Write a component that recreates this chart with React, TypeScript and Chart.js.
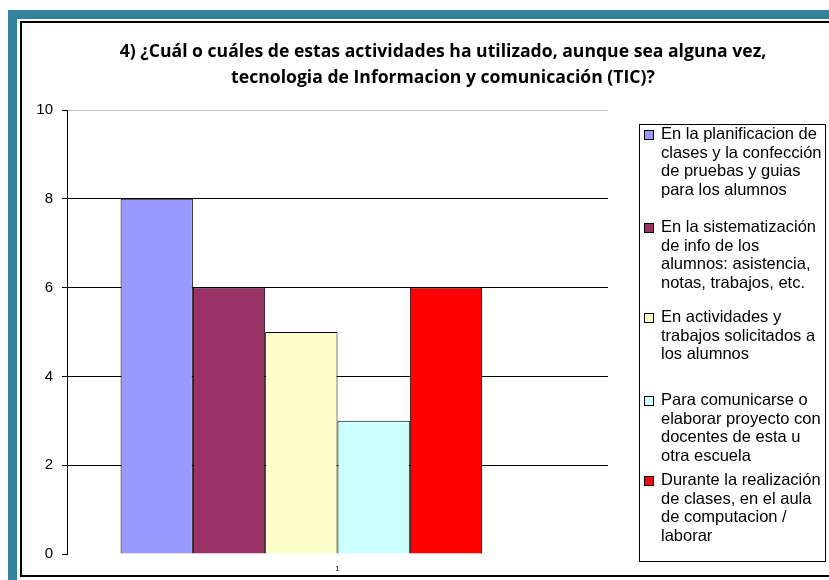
import React, { useEffect, useRef } from "react";
import { Chart, registerables } from "chart.js";

Chart.register(...registerables);

const categories = ["1"];
const titleLines = [
  "4) ¿Cuál o cuáles de estas actividades ha utilizado, aunque sea alguna vez,",
  "tecnologia de Informacion y comunicación (TIC)?",
];
const seriesLabels: string[][] = [
  ["En la planificacion de", "clases y la confección", "de pruebas y guias", "para los alumnos"],
  ["En la sistematización", "de info de los", "alumnos: asistencia,", "notas, trabajos, etc."],
  ["En actividades y", "trabajos solicitados a", "los alumnos"],
  ["Para comunicarse o", "elaborar proyecto con", "docentes de esta u", "otra escuela"],
  ["Durante la realización", "de clases, en el aula", "de computacion /", "laborar"],
  [],
];
const seriesValues: (number | null)[] = [8, 6, 5, 3, 6, null];
const seriesColors = ["#9999FF", "#993366", "#FFFFCC", "#CCFFFF", "#FF0000", "rgba(0,0,0,0)"];
const yTicks = [0, 2, 4, 6, 8, 10];

const framePlugin = {
  id: "frame",
  beforeDraw(chart: any) {
    const ctx = chart.ctx;
    ctx.save();
    ctx.fillStyle = "#FFFFFF";
    ctx.fillRect(0, 0, chart.width, chart.height);
    ctx.fillStyle = "#31849B";
    ctx.fillRect(8, 10, chart.width - 8, chart.height - 10);
    ctx.fillStyle = "#FFFFFF";
    ctx.fillRect(17, 19, chart.width - 17, chart.height - 19);
    ctx.strokeStyle = "#000";
    ctx.lineWidth = 2;
    ctx.beginPath();
    ctx.moveTo(chart.width, 22);
    ctx.lineTo(21, 22);
    ctx.lineTo(21, 576);
    ctx.lineTo(chart.width, 576);
    ctx.stroke();
    // title
    ctx.fillStyle = "#000";
    ctx.font = "bold 17.6px 'Open Sans'";
    ctx.textAlign = "center";
    ctx.textBaseline = "middle";
    ctx.fillText(titleLines[0], 443, 52);
    ctx.fillText(titleLines[1], 443, 78);
    ctx.restore();
  },
};

const legendPlugin = {
  id: "customLegend",
  afterDraw(chart: any) {
    const ctx = chart.ctx;
    const bx = 639.5, by = 124.5, bw = 186, bh = 437;
    const offsets = [10, 103, 193, 276, 356];
    const lh = 18.7;
    ctx.save();
    ctx.fillStyle = "#FFFFFF";
    ctx.fillRect(bx, by, bw, bh);
    ctx.strokeStyle = "#000";
    ctx.lineWidth = 1;
    ctx.strokeRect(bx, by, bw, bh);
    ctx.font = "16.5px 'Liberation Sans', Arial";
    ctx.textBaseline = "middle";
    ctx.textAlign = "left";
    chart.data.datasets.forEach((ds: any, i: number) => {
      const lines = seriesLabels[i];
      if (!lines || !lines.length) return;
      const y0 = by + offsets[i];
      ctx.fillStyle = ds.backgroundColor;
      ctx.fillRect(644.5, Math.round(y0) - 4.5, 9, 9);
      ctx.strokeStyle = "#000";
      ctx.strokeRect(644.5, Math.round(y0) - 4.5, 9, 9);
      ctx.fillStyle = "#000";
      lines.forEach((ln, j) => ctx.fillText(ln, 661, y0 + j * lh));
    });
    ctx.restore();
  },
};

export default function App() {
  const ref = useRef<HTMLCanvasElement | null>(null);
  useEffect(() => {
    if (!ref.current) return;
    const chart = new Chart(ref.current, {
      type: "bar",
      data: {
        labels: categories,
        datasets: seriesValues.map((v, i) => ({
          label: seriesLabels[i].join(" "),
          data: [v],
          backgroundColor: seriesColors[i],
          borderColor: "#000",
          borderWidth: 1,
          barPercentage: 1,
          categoryPercentage: 0.802,
        })),
      },
      options: {
        responsive: false,
        animation: false,
        devicePixelRatio: 1,
        layout: { padding: { left: 20, top: 110, right: 221, bottom: 0 } },
        plugins: {
          legend: { display: false },
          title: { display: false },
          tooltip: { enabled: false },
        },
        scales: {
          x: {
            grid: { display: false, drawTicks: false },
            border: { display: false },
            ticks: { font: { family: "'Liberation Sans', Arial", size: 8 }, color: "#000", padding: 10 },
            afterFit: (s: any) => { s.height = 26; },
          },
          y: {
            min: 0,
            max: 10,
            afterBuildTicks: (s: any) => { s.ticks = yTicks.map((v) => ({ value: v })); },
            grid: {
              color: (c: any) => (c.tick && c.tick.value === 10 ? "#C0C0C0" : c.tick && c.tick.value === 0 ? "rgba(0,0,0,0)" : "#000"),
              tickColor: "#000",
              tickLength: 5,
              lineWidth: 1,
            },
            border: { display: true, color: "#000", width: 1 },
            ticks: { font: { family: "'Liberation Sans', Arial", size: 15 }, color: "#000", padding: 9 },
            afterFit: (s: any) => { s.width = 47; },
          },
        },
      },
      plugins: [framePlugin, legendPlugin],
    });
    return () => chart.destroy();
  }, []);
  return (
    <canvas
      ref={ref}
      width={829}
      height={580}
      style={{ position: "fixed", left: 0, top: 0, width: 829, height: 580 }}
    />
  );
}
